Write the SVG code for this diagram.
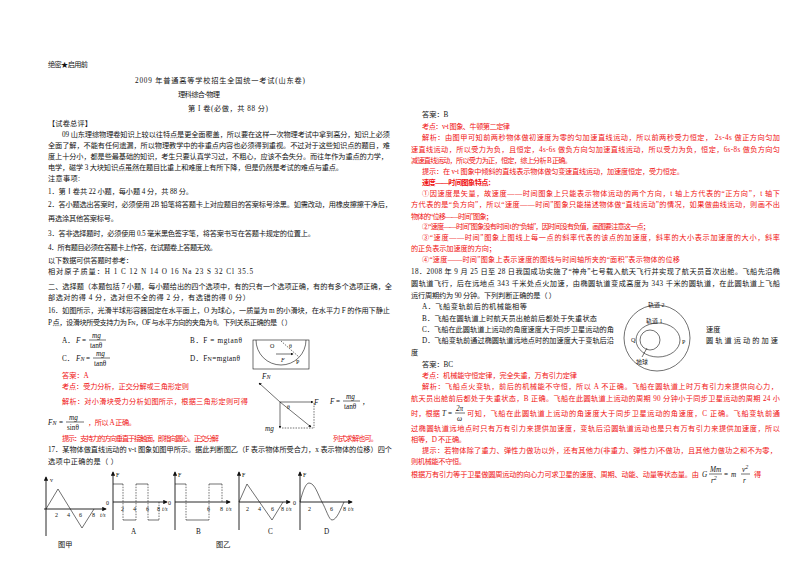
<svg xmlns="http://www.w3.org/2000/svg" width="800" height="565" viewBox="0 0 800 565">
<style>
text{font-family:"Liberation Serif","Noto Sans CJK SC",serif;font-size:7.2px;fill:#111}
.r{fill:#f01010}
.b{font-weight:bold}
.i{font-style:italic}
.s{font-size:6px}
.ln{stroke:#111;stroke-width:0.6;fill:none}
.ax{stroke:#111;stroke-width:0.9;fill:none}
.dl{stroke:#111;stroke-width:0.6;stroke-dasharray:1.5 1.2;fill:none}
</style>
<defs>
<marker id="ah" viewBox="0 0 6 6" refX="5" refY="3" markerWidth="5" markerHeight="5" orient="auto"><path d="M0,0L6,3L0,6z" fill="#111"/></marker>
</defs>
<rect width="800" height="565" fill="#fff"/>
<g id="left-text">
<text x="48" y="67" textLength="40">绝密★启用前</text>
<text x="135" y="83" textLength="170">2009 年普通高等学校招生全国统一考试(山东卷)</text>
<text x="178" y="97" textLength="42">理科综合-物理</text>
<text x="188" y="111" textLength="80">第 I 卷(必做，共 88 分)</text>
<text x="48" y="126" textLength="44">【试卷总评】</text>
<text x="62" y="137" textLength="328">09 山东理综物理卷知识上较以往特点是更全面覆盖，所以要在这样一次物理考试中拿到高分，知识上必须</text>
<text x="48" y="148" textLength="342">全面了解，不能有任何遗漏，所以物理教学中的非重点内容也必须得到重视。不过对于这些知识点的题目，难</text>
<text x="48" y="159" textLength="340">度上十分小，都是些最基础的知识，考生只要认真学习过，不粗心，应该不会失分。而往年作为重点的力学，</text>
<text x="48" y="170" textLength="295">电学，磁学 3 大块知识点虽然在题目比重上和难度上有所下降，但是仍然是考试的难点与重点。</text>
<text x="48" y="181" textLength="32">注意事项:</text>
<text x="48" y="194" textLength="145">1．第Ⅰ卷共 22 小题，每小题 4 分，共 88 分。</text>
<text x="48" y="207" textLength="344">2．答小题选出答案时，必须使用 2B 铅笔将答题卡上对应题目的答案标号涂黑。如需改动，用橡皮擦擦干净后，</text>
<text x="48" y="221" textLength="70">再选涂其他答案标号。</text>
<text x="48" y="236" textLength="267">3．答非选择题时，必须使用 0.5 毫米黑色签字笔，将答案书写在答题卡规定的位置上。</text>
<text x="48" y="250" textLength="169">4．所有题目必须在答题卡上作答，在试题卷上答题无效。</text>
<text x="48" y="263" textLength="85">以下数据可供答题时参考：</text>
<text x="48" y="274" textLength="205">相对原子质量：H 1   C 12   N 14   O 16   Na 23  S 32   Cl 35.5</text>
<text x="48" y="289" textLength="344">二、选择题（本题包括 7 小题，每小题给出的四个选项中，有的只有一个选项正确，有的有多个选项正确，全</text>
<text x="48" y="300" textLength="202">部选对的得 4 分，选对但不全的得 2 分，有选错的得 0 分）</text>
<text x="48" y="313" textLength="342">16．如图所示，光滑半球形容器固定在水平面上，O 为球心，一质量为 m 的小滑块，在水平力 F 的作用下静止</text>
<text x="48" y="325" textLength="244">P 点，设滑块所受支持力为 F<tspan class="s">N</tspan>，OF 与水平方向的夹角为 θ。下列关系正确的是（   ）</text>
<text x="62" y="343">A．</text><text x="76" y="343" class="i">F</text><text x="82" y="343">=</text>
<text x="92" y="338" class="i">mg</text><line class="ln" x1="89" y1="340" x2="106" y2="340"/><text x="90" y="348">tanθ</text>
<text x="190" y="343" textLength="52">B．F = mgtanθ</text>
<text x="62" y="361">C．</text><text x="76" y="361" class="i">F<tspan class="s">N</tspan></text><text x="86" y="361">=</text>
<text x="96" y="356" class="i">mg</text><line class="ln" x1="93" y1="358" x2="110" y2="358"/><text x="94" y="366">tanθ</text>
<text x="190" y="361" textLength="50">D．F<tspan class="s">N</tspan>=mgtanθ</text>
<text x="62" y="378" class="r">答案：A</text>
<text x="62" y="389" class="r" textLength="127">考点：受力分析，正交分解或三角形定则</text>
<text x="62" y="404" class="r" textLength="186">解析：对小滑块受力分析如图所示，根据三角形定则可得</text>
<text x="48" y="425" class="i">F<tspan class="s">N</tspan></text><text x="59" y="425">=</text>
<text x="69" y="420" class="i">mg</text><line class="ln" x1="66" y1="422" x2="84" y2="422"/><text x="67" y="430">sinθ</text>
<text x="88" y="425" class="r" textLength="48">，所以 A 正确。</text>
<text x="62" y="441" class="r" textLength="157">提示：支持力的方向垂直于接触面，即指向圆心。正交分解</text>
<text x="333" y="441" class="r" textLength="45">列式求解也可。</text>
<text x="48" y="452" textLength="344">17．某物体做直线运动的 v-t 图象如图甲所示。据此判断图乙（F 表示物体所受合力，x 表示物体的位移）四个</text>
<text x="48" y="464" textLength="70">选项中正确的是（   ）</text>
</g>
<g id="fig16">
<rect class="ln" x="253" y="340" width="56" height="29"/>
<path class="ln" d="M256,340 A25,25 0 0 0 306,340"/>
<line class="dl" x1="281" y1="341" x2="299" y2="357"/>
<text x="270" y="348" class="s">O</text><text x="289" y="348" class="s">θ</text>
<line class="ln" x1="276" y1="354" x2="293" y2="354" marker-end="url(#ah)"/>
<text x="281" y="362" class="s i">F</text><text x="296" y="364" class="s">P</text>
<line class="ln" x1="280" y1="402" x2="259" y2="383" marker-end="url(#ah)"/>
<text x="262" y="379" class="i">F<tspan class="s">N</tspan></text>
<line class="ln" x1="280" y1="402" x2="313" y2="402" marker-end="url(#ah)"/>
<text x="314" y="405" class="i">F</text>
<line class="ln" x1="280" y1="402" x2="280" y2="428" marker-end="url(#ah)"/>
<text x="265" y="431" class="i">mg</text>
<line class="ln" x1="280" y1="402" x2="311" y2="427" marker-end="url(#ah)"/>
<line class="dl" x1="314" y1="403" x2="314" y2="428"/>
<line class="dl" x1="282" y1="428" x2="314" y2="428"/>
<text x="287" y="409" class="s">θ</text>
<text x="330" y="404" class="i">F</text><text x="336" y="404">=</text>
<text x="346" y="399" class="i">mg</text><line class="ln" x1="343" y1="401" x2="360" y2="401"/><text x="344" y="409">tanθ</text><text x="362" y="404">，</text>
</g>
<g id="fig17">
<line class="ax" x1="46" y1="536" x2="46" y2="477" marker-end="url(#ah)"/>
<line class="ax" x1="44" y1="509" x2="106" y2="509" marker-end="url(#ah)"/>
<path class="ln" d="M46,509 L58,489 L82,528 L94,509"/>
<text x="50" y="482" class="s">v</text><text x="55" y="517" class="s">2</text><text x="67" y="517" class="s">4</text><text x="79" y="517" class="s">6</text><text x="92" y="517" class="s">8</text><text x="100" y="517" class="s i">t/s</text>
<line class="ax" x1="113" y1="530" x2="113" y2="472" marker-end="url(#ah)"/>
<line class="ax" x1="113" y1="502" x2="167" y2="502" marker-end="url(#ah)"/>
<path class="ln" d="M113,484 H123 M123,520 H136 M136,484 H148 M148,520 H159"/>
<path class="dl" d="M123,484 V520 M136,484 V520 M148,484 V520 M159,502 V520"/>
<text x="116" y="477" class="s">F</text><text x="106" y="505" class="s">0</text><text x="121" y="511" class="s">2</text><text x="133" y="511" class="s">4</text><text x="146" y="511" class="s">6</text><text x="157" y="511" class="s">8</text><text x="162" y="511" class="s i">t/s</text>
<text x="131" y="534">A</text>
<line class="ax" x1="175" y1="530" x2="175" y2="472" marker-end="url(#ah)"/>
<line class="ax" x1="175" y1="502" x2="230" y2="502" marker-end="url(#ah)"/>
<path class="ln" d="M175,484 H186 M186,520 H209 M209,484 H222"/>
<path class="dl" d="M186,484 V520 M209,484 V520 M222,484 V502"/>
<text x="178" y="477" class="s">F</text><text x="168" y="505" class="s">0</text><text x="207" y="511" class="s">6</text><text x="220" y="511" class="s">8</text><text x="226" y="511" class="s i">t/s</text>
<text x="196" y="534">B</text>
<line class="ax" x1="239" y1="530" x2="239" y2="472" marker-end="url(#ah)"/>
<line class="ax" x1="239" y1="502" x2="290" y2="502" marker-end="url(#ah)"/>
<path class="ln" d="M239,502 L247,484 L272,520 L283,502"/>
<text x="242" y="477" class="s">F</text><text x="246" y="511" class="s">2</text><text x="258" y="511" class="s">4</text><text x="271" y="511" class="s">6</text><text x="281" y="511" class="s">8</text><text x="286" y="511" class="s i">t/s</text>
<text x="268" y="534">C</text>
<line class="ax" x1="300" y1="530" x2="300" y2="472" marker-end="url(#ah)"/>
<line class="ax" x1="300" y1="502" x2="352" y2="502" marker-end="url(#ah)"/>
<path class="ln" d="M300,502 C303,490 306,483 309,483 C315,483 318,495 322,502 C326,509 329,520 332,520 C337,520 341,508 344,502"/>
<text x="303" y="477" class="s">F</text><text x="293" y="505" class="s">0</text><text x="308" y="511" class="s">2</text><text x="330" y="511" class="s">6</text><text x="343" y="511" class="s">8</text><text x="348" y="511" class="s i">t/s</text>
<text x="324" y="534">D</text>
<text x="58" y="547">图甲</text>
<text x="216" y="547">图乙</text>
</g>
<g id="right-text">
<text x="422" y="117">答案：B</text>
<text x="422" y="129" class="r" textLength="88">考点：v-t 图象、牛顿第二定律</text>
<text x="422" y="140" class="r" textLength="358">解析：由图甲可知前两秒物体做初速度为零的匀加速直线运动，所以前两秒受力恒定， 2s-4s 做正方向匀加</text>
<text x="411" y="152" class="r" textLength="369">速直线运动，所以受力为负，且恒定，4s-6s 做负方向匀加速直线运动，所以受力为负，恒定，6s-8s 做负方向匀</text>
<text x="411" y="163" class="r" textLength="161">减速直线运动，所以受力为正，恒定，综上分析 B 正确。</text>
<text x="422" y="174" class="r" textLength="262">提示：在 v-t 图象中倾斜的直线表示物体做匀变速直线运动，加速度恒定，受力恒定。</text>
<text x="422" y="185" class="r b" textLength="73">速度——时间图象特点：</text>
<text x="422" y="196" class="r" textLength="358">①因速度是矢量，故速度——时间图象上只能表示物体运动的两个方向，t 轴上方代表的“正方向”，t 轴下</text>
<text x="411" y="207" class="r" textLength="369">方代表的是“负方向”，所以“速度——时间”图象只能描述物体做“直线运动”的情况，如果做曲线运动，则画不出</text>
<text x="411" y="219" class="r" textLength="82">物体的“位移——时间”图象；</text>
<text x="422" y="229" class="r" textLength="228">②“速度——时间”图象没有时间 t 的“负轴”，因时间没有负值，画图要注意这一点；</text>
<text x="422" y="240" class="r" textLength="358">③“速度——时间”图象上图线上每一点的斜率代表的该点的加速度，斜率的大小表示加速度的大小，斜率</text>
<text x="411" y="251" class="r" textLength="85">的正负表示加速度的方向；</text>
<text x="422" y="262" class="r" textLength="258">④“速度——时间”图象上表示速度的图线与时间轴所夹的“面积”表示物体的位移</text>
<text x="411" y="274" textLength="369">18．2008 年 9 月 25 日至 28 日我国成功实施了“神舟”七号载入航天飞行并实现了航天员首次出舱。飞船先沿椭</text>
<text x="411" y="286" textLength="369">圆轨道飞行，后在远地点 343 千米处点火加速，由椭圆轨道变成高度为 343 千米的圆轨道，在此圆轨道上飞船</text>
<text x="411" y="298" textLength="145">运行周期约为 90 分钟。下列判断正确的是（   ）</text>
<text x="422" y="309" textLength="105">A．飞船变轨前后的机械能相等</text>
<text x="422" y="321" textLength="175">B．飞船在圆轨道上时航天员出舱前后都处于失重状态</text>
<text x="422" y="332" textLength="192">C．飞船在此圆轨道上运动的角度速度大于同步卫星运动的角</text>
<text x="706" y="332">速度</text>
<text x="422" y="343" textLength="192">D．飞船变轨前通过椭圆轨道远地点时的加速度大于变轨后沿</text>
<text x="706" y="343" textLength="72">圆轨道运动的加速</text>
<text x="411" y="355">度</text>
<text x="422" y="367">答案：BC</text>
<text x="422" y="378" class="r" textLength="155">考点：机械能守恒定律，完全失重，万有引力定律</text>
<text x="422" y="389" class="r" textLength="356">解析：飞船点火变轨，前后的机械能不守恒，所以 A 不正确。飞船在圆轨道上时万有引力来提供向心力，</text>
<text x="411" y="401" class="r" textLength="369">航天员出舱前后都处于失重状态，B 正确。飞船在此圆轨道上运动的周期 90 分钟小于同步卫星运动的周期 24 小</text>
<text x="411" y="416" class="r" textLength="29">时，根据</text>
<text x="442" y="416" class="i">T</text><text x="448" y="416">=</text>
<text x="456" y="411" class="i">2π</text><line class="ln" x1="455" y1="413" x2="465" y2="413"/><text x="457" y="421" class="i">ω</text>
<text x="467" y="416" class="r" textLength="313">可知，飞船在此圆轨道上运动的角速度大于同步卫星运动的角速度，C 正确。飞船变轨前通</text>
<text x="411" y="431" class="r" textLength="369">过椭圆轨道远地点时只有万有引力来提供加速度，变轨后沿圆轨道运动也是只有万有引力来提供加速度，所以</text>
<text x="411" y="442" class="r" textLength="55">相等，D 不正确。</text>
<text x="422" y="453" class="r" textLength="355">提示：若物体除了重力、弹性力做功以外，还有其他力(非重力、弹性力)不做功，且其他力做功之和不为零，</text>
<text x="411" y="464" class="r" textLength="55">则机械能不守恒。</text>
<text x="411" y="477" class="r" textLength="288">根据万有引力等于卫星做圆周运动的向心力可求卫星的速度、周期、动能、动量等状态量。由</text>
<text x="702" y="477" class="i">G</text>
<text x="710" y="472" class="i">Mm</text><line class="ln" x1="709" y1="474" x2="722" y2="474"/><text x="711" y="483" class="i">r<tspan class="s" dy="-3">2</tspan></text>
<text x="724" y="477">=</text><text x="731" y="477" class="i">m</text>
<text x="742" y="472" class="i">v<tspan class="s" dy="-3">2</tspan></text><line class="ln" x1="741" y1="474" x2="750" y2="474"/><text x="743" y="483" class="i">r</text>
<text x="754" y="477" class="r">得</text>
</g>
<g id="fig18">
<circle class="ln" cx="657" cy="338" r="33"/>
<ellipse class="ln" cx="658" cy="340" rx="22" ry="17"/>
<circle class="ln" cx="650" cy="340" r="10"/>
<line class="ln" x1="647" y1="348" x2="642" y2="357"/>
<text x="648" y="307" class="s">轨道 2</text>
<text x="646" y="323" class="s">轨道 1</text>
<text x="631" y="342" class="s">Q</text>
<text x="682" y="344" class="s">P</text>
<text x="636" y="364" class="s">地球</text>
</g>
</svg>
